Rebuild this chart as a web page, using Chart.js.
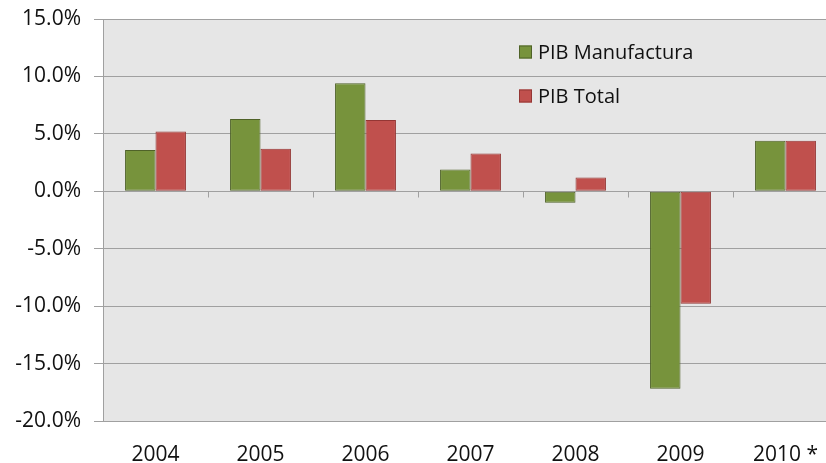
<!DOCTYPE html>
<html>
<head>
<meta charset="utf-8">
<script src="https://cdn.jsdelivr.net/npm/chart.js@4/dist/chart.umd.min.js"></script>
<style>
  html, body { margin: 0; padding: 0; background: #fff; overflow: hidden; }
  #wrap { width: 842px; height: 463px; position: relative; }
</style>
</head>
<body>
<div id="wrap"><canvas id="chart"></canvas></div>
<script>
const years = ['2004', '2005', '2006', '2007', '2008', '2009', '2010 *'];
const pibManufactura = [3.6, 6.3, 9.4, 1.9, -1.0, -17.2, 4.4];
const pibTotal = [5.2, 3.7, 6.2, 3.3, 1.2, -9.8, 4.4];
const yMin = -20;
const yMax = 15;
const yStep = 5;

const FONT = '"Open Sans", "Liberation Sans", sans-serif';

const plotBg = {
  id: 'plotBg',
  beforeDraw(chart) {
    const a = chart.chartArea;
    const ctx = chart.ctx;
    ctx.save();
    ctx.fillStyle = '#e6e6e6';
    ctx.fillRect(a.left, a.top, a.right - a.left, a.bottom - a.top);
    ctx.restore();
  }
};

// small category ticks hanging off the zero line, like the excel axis
const zeroTicks = {
  id: 'zeroTicks',
  afterDatasetsDraw(chart) {
    const x = chart.scales.x;
    const y = chart.scales.y;
    const y0 = Math.round(y.getPixelForValue(0)) + 0.5;
    const ctx = chart.ctx;
    ctx.save();
    ctx.strokeStyle = '#a0a0a0';
    ctx.lineWidth = 1;
    ctx.beginPath();
    for (let i = 1; i < years.length; i++) {
      const px = Math.round((x.getPixelForValue(i - 1) + x.getPixelForValue(i)) / 2) + 0.5;
      ctx.moveTo(px, y0);
      ctx.lineTo(px, y0 + 6);
    }
    ctx.stroke();
    ctx.restore();
  }
};

const innerLegend = {
  id: 'innerLegend',
  afterDraw(chart) {
    const ctx = chart.ctx;
    const left = 519;
    const rows = [52, 96];
    ctx.save();
    ctx.font = '20px ' + FONT;
    ctx.textBaseline = 'middle';
    chart.data.datasets.forEach((ds, i) => {
      const cy = rows[i];
      ctx.fillStyle = ds.backgroundColor;
      ctx.fillRect(left, cy - 6.5, 13, 13);
      ctx.strokeStyle = ds.borderColor;
      ctx.lineWidth = 1;
      ctx.strokeRect(left + 0.5, cy - 6, 12, 12);
      ctx.fillStyle = '#111';
      ctx.fillText(ds.label, left + 19, cy + 1);
    });
    ctx.restore();
  }
};

new Chart(document.getElementById('chart'), {
  type: 'bar',
  data: {
    labels: years,
    datasets: [
      {
        label: 'PIB Manufactura',
        data: pibManufactura,
        backgroundColor: '#77933c',
        borderColor: '#4f6228',
        borderWidth: 1,
        borderSkipped: false,
        categoryPercentage: 0.58,
        barPercentage: 1.0,
      },
      {
        label: 'PIB Total',
        data: pibTotal,
        backgroundColor: '#c0504d',
        borderColor: '#943634',
        borderWidth: 1,
        borderSkipped: false,
        categoryPercentage: 0.58,
        barPercentage: 1.0,
      },
    ],
  },
  options: {
    responsive: true,
    maintainAspectRatio: false,
    animation: false,
    layout: { padding: { top: 19, right: 4, left: 0, bottom: 0 } },
    plugins: {
      legend: { display: false },
      tooltip: { enabled: false },
    },
    scales: {
      x: {
        grid: { display: false, drawTicks: false },
        border: { display: false },
        ticks: {
          color: '#111',
          font: { family: FONT, size: 21 },
          padding: 21,
          maxRotation: 0,
        },
        afterFit(scale) { scale.height = 42; },
      },
      y: {
        min: yMin,
        max: yMax,
        grid: {
          color: '#a0a0a0',
          lineWidth: 1,
          tickLength: 9,
          drawTicks: true,
        },
        border: { display: true, color: '#a0a0a0', width: 1 },
        ticks: {
          stepSize: yStep,
          color: '#111',
          font: { family: FONT, size: 21 },
          padding: 13,
          callback: (v) => v.toFixed(1) + '%',
        },
        afterFit(scale) {
          scale.width = 103;
          scale.paddingTop = 0;
          scale.paddingBottom = 0;
        },
      },
    },
  },
  plugins: [plotBg, zeroTicks, innerLegend],
});
</script>
</body>
</html>
